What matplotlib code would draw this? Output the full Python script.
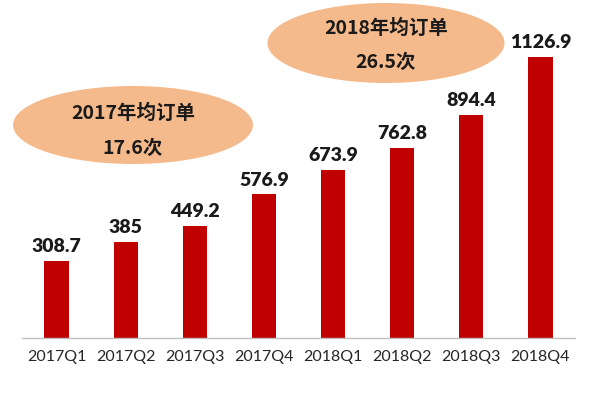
import matplotlib
matplotlib.use("Agg")
import matplotlib.pyplot as plt
from matplotlib.patches import Ellipse

categories = ["2017Q1", "2017Q2", "2017Q3", "2017Q4", "2018Q1", "2018Q2", "2018Q3", "2018Q4"]
values = [308.7, 385, 449.2, 576.9, 673.9, 762.8, 894.4, 1126.9]
value_labels = ["308.7", "385", "449.2", "576.9", "673.9", "762.8", "894.4", "1126.9"]
notes = [("2017年均订单", "17.6次"), ("2018年均订单", "26.5次")]

plt.rcParams['font.family'] = ['Lato', 'Noto Sans CJK SC', 'DejaVu Sans']

fig = plt.figure(figsize=(6, 4), dpi=100)
ax = fig.add_axes([22/600, (400-338)/400, (575-22)/600, 338/400])
x = range(len(categories))
bars = ax.bar(x, values, width=0.35, color="#C00000")
ax.set_xlim(-0.5, len(categories) - 0.5)
ax.set_ylim(0, 1355)
ax.set_xticks(list(x))
ax.set_xticklabels(categories, fontsize=11.5, color="#262626")
ax.tick_params(axis='x', length=0, pad=9)
ax.set_yticks([])
for s in ["top", "right", "left"]:
    ax.spines[s].set_visible(False)
ax.spines["bottom"].set_color("#BFBFBF")
ax.spines["bottom"].set_linewidth(1)
ax.patch.set_alpha(0)

for xi, v, lab in zip(x, values, value_labels):
    ax.annotate(lab, (xi, v), xytext=(0, 4), textcoords="offset points",
                ha="center", va="bottom", fontsize=14, fontweight="heavy", color="#1a1a1a")

ell_pos = [((133/600, 1 - 125/400), 240/600, 78/400, 113, 148),
           ((386/600, 1 - 43/400), 237/600, 80/400, 28, 62)]
for (c, w, h, y1, y2), (t1, t2) in zip(ell_pos, notes):
    e = Ellipse(c, w, h, transform=fig.transFigure, facecolor="#F5BA8C", edgecolor="none", zorder=0)
    fig.add_artist(e)
    fig.text(c[0], 1 - y1/400, t1, ha="center", va="center", fontsize=14, fontweight="bold",
             color="#1a1a1a", family=['Noto Sans CJK SC', 'DejaVu Sans'])
    fig.text(c[0], 1 - y2/400, t2, ha="center", va="center", fontsize=14, fontweight="bold",
             color="#1a1a1a", family=['Noto Sans CJK SC', 'DejaVu Sans'])

fig.savefig("out.png", dpi=100)
